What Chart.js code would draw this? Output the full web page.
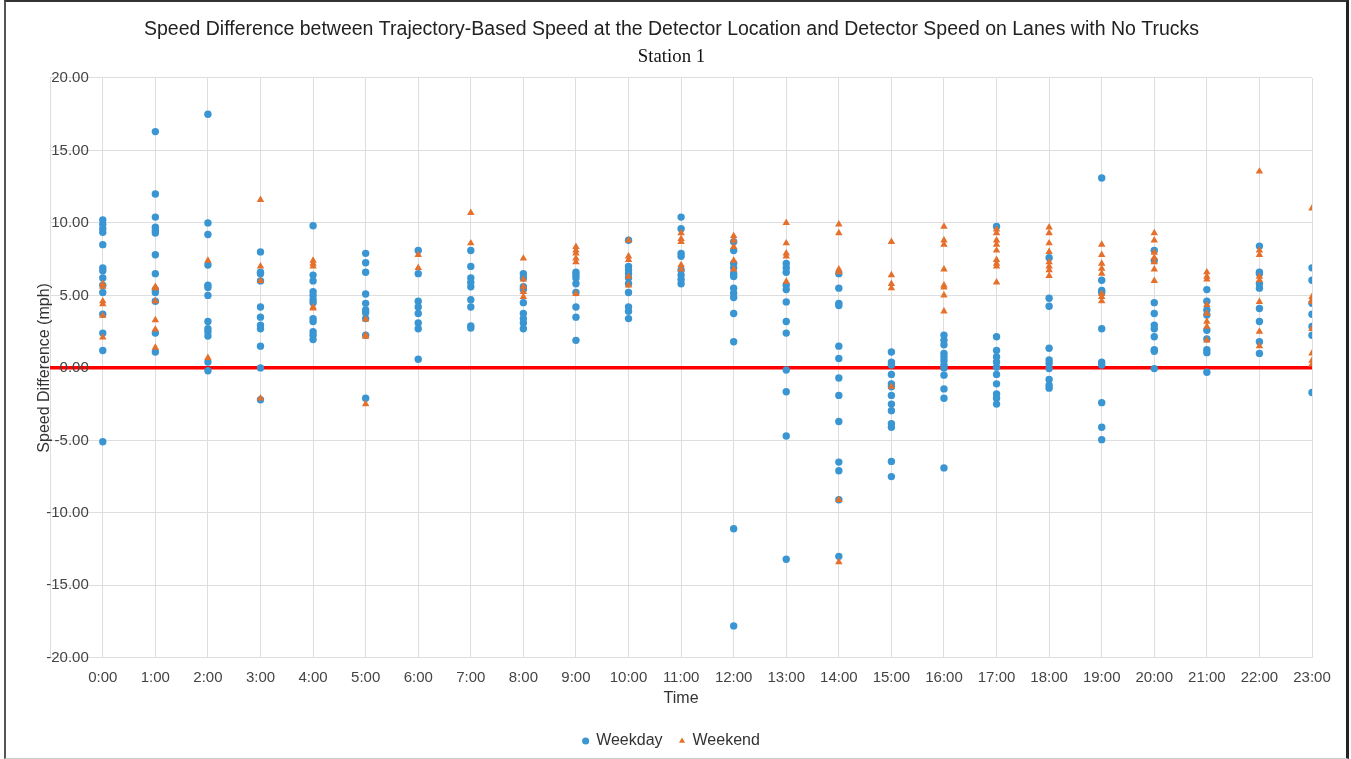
<!DOCTYPE html>
<html>
<head>
<meta charset="utf-8">
<script src="https://cdn.jsdelivr.net/npm/chart.js@4"></script>
<style>
  html, body { margin: 0; padding: 0; background: #fff; }
  #wrap { position: relative; width: 1351px; height: 759px; }
  #frame {
    position: absolute; left: 4px; top: 0; width: 1340px; height: 756px;
    border-top: 2px solid #333; border-left: 2px solid #555; border-right: 3px solid #222;
    border-bottom: 1px solid #ccc; pointer-events: none;
  }
</style>
</head>
<body>
<div id="wrap">
  <canvas id="chart" width="1351" height="759"></canvas>
  <div id="frame"></div>
</div>
<script>
const hourLabels = ["0:00", "1:00", "2:00", "3:00", "4:00", "5:00", "6:00", "7:00", "8:00", "9:00", "10:00", "11:00",
  "12:00", "13:00", "14:00", "15:00", "16:00", "17:00", "18:00", "19:00", "20:00", "21:00", "22:00", "23:00"];

const yTickValues = [-20, -15, -10, -5, 0, 5, 10, 15, 20];

// speed difference (mph) per hour, one list per hour
const weekdayValues = [
  [10.2, 9.9, 9.6, 9.35, 8.5, 6.9, 6.7, 6.2, 5.7, 5.2, 3.7, 2.4, 1.2, -5.1],
  [16.3, 12.0, 10.4, 9.7, 9.5, 9.3, 7.8, 6.5, 5.4, 5.2, 4.6, 2.4, 1.1],
  [17.5, 10.0, 9.2, 7.1, 5.7, 5.55, 5.0, 3.2, 2.7, 2.5, 2.2, 0.4, -0.2],
  [8.0, 6.6, 6.5, 6.0, 4.2, 3.5, 2.95, 2.7, 1.5, 0.0, -2.2],
  [9.8, 6.4, 6.0, 5.25, 5.0, 4.7, 4.5, 3.4, 3.2, 2.5, 2.25, 1.95],
  [7.9, 7.25, 6.6, 5.1, 4.45, 4.0, 3.8, 3.4, 2.25, -2.1],
  [8.1, 6.5, 4.6, 4.2, 3.75, 3.1, 2.7, 0.6],
  [8.1, 7.0, 6.2, 5.9, 5.6, 4.7, 4.2, 2.9, 2.75],
  [6.5, 6.2, 5.6, 5.4, 4.5, 3.75, 3.4, 3.1, 2.7],
  [6.6, 6.4, 6.2, 5.8, 5.2, 4.2, 3.5, 1.9],
  [8.8, 7.0, 6.75, 6.5, 6.2, 5.8, 5.2, 4.2, 3.9, 3.4],
  [10.4, 9.6, 7.9, 7.7, 6.75, 6.4, 6.1, 5.8],
  [8.7, 8.1, 7.2, 6.9, 6.5, 6.3, 5.5, 5.15, 4.85, 3.75, 1.8, -11.1, -17.8],
  [7.2, 6.9, 6.6, 5.7, 5.4, 4.55, 3.2, 2.4, -0.15, -1.65, -4.7, -13.2],
  [6.5, 5.5, 4.45, 4.3, 1.5, 0.65, -0.7, -1.9, -3.7, -6.5, -7.1, -9.1, -13.0],
  [1.1, 0.4, 0.2, -0.45, -1.1, -1.3, -1.9, -2.5, -2.95, -3.85, -4.1, -6.45, -7.5],
  [2.25, 1.9, 1.6, 1.0, 0.75, 0.5, 0.2, 0.0, -0.5, -1.45, -2.1, -6.9],
  [9.75, 2.15, 1.2, 0.75, 0.4, 0.05, -0.45, -1.1, -1.8, -2.1, -2.5],
  [7.6, 4.8, 4.25, 1.35, 0.55, 0.3, -0.05, -0.8, -1.2, -1.4],
  [13.1, 6.05, 5.35, 5.2, 2.7, 0.4, 0.2, -2.4, -4.1, -4.95],
  [8.1, 7.4, 4.5, 3.75, 2.95, 2.7, 2.15, 1.25, 1.15, -0.05],
  [5.4, 4.6, 4.0, 3.65, 2.6, 2.0, 1.25, 1.05, -0.3],
  [8.4, 6.6, 6.5, 5.8, 5.5, 4.1, 3.2, 1.8, 1.0],
  [6.9, 6.05, 4.45, 3.7, 2.85, 2.25, -1.7]
];

const weekendValues = [
  [5.8, 5.6, 4.6, 4.4, 3.6, 2.1],
  [5.6, 5.5, 4.6, 3.3, 2.65, 1.4],
  [7.4, 0.7],
  [11.6, 7.0, 6.0, -2.1],
  [7.4, 7.2, 7.0, 4.2, 4.1],
  [3.35, 2.25, 2.15, -2.5],
  [7.8, 6.9],
  [10.7, 8.6],
  [7.55, 6.1, 5.6, 5.25, 4.9],
  [8.35, 8.1, 7.9, 7.55, 7.3, 5.1],
  [8.8, 7.7, 7.45, 6.3, 5.7],
  [9.3, 8.9, 8.7, 7.1, 6.8],
  [9.1, 8.8, 8.35, 7.4, 6.8],
  [10.0, 8.6, 7.9, 7.7, 5.95],
  [9.9, 9.3, 6.8, 6.6, -9.1, -13.4],
  [8.7, 6.4, 5.8, 5.5, -1.3],
  [9.75, 8.8, 8.5, 6.8, 5.7, 5.55, 5.0, 3.9],
  [9.55, 9.3, 8.8, 8.5, 8.1, 7.45, 7.2, 7.0, 5.9],
  [9.7, 9.3, 8.6, 8.0, 7.3, 7.0, 6.75, 6.35],
  [8.5, 7.8, 7.2, 6.85, 6.5, 5.1, 4.9, 4.6],
  [9.3, 8.8, 7.95, 7.6, 7.3, 6.8, 6.0],
  [6.6, 6.3, 6.1, 4.35, 3.75, 3.2, 2.85, 1.9],
  [13.55, 8.1, 7.8, 6.3, 6.05, 4.55, 2.5, 1.5],
  [11.0, 4.9, 4.7, 4.55, 2.7, 1.0, 0.5, 0.25]
];

const BLUE = "#3a95d3";
const ORANGE = "#e5702c";
const GRID = "#dedede";
const SANS = "'Liberation Sans', Arial, sans-serif";

// flatten hour lists into scatter points
const toPoints = (lists) =>
  lists.flatMap((vals, hour) => vals.map((v) => ({ x: hour, y: v })));

const context = document.querySelector("#chart").getContext("2d");

new Chart(context, {
  type: "scatter",
  data: {
    datasets: [
      {
        label: "Weekday",
        data: toPoints(weekdayValues),
        backgroundColor: BLUE,
        borderColor: BLUE,
        borderWidth: 0,
        pointStyle: "circle",
        pointRadius: 3.7,
        order: 1,
      },
      {
        label: "Weekend",
        data: toPoints(weekendValues),
        backgroundColor: ORANGE,
        borderColor: ORANGE,
        borderWidth: 0,
        pointStyle: "triangle",
        pointRadius: 4.3,
        order: 0,
      },
    ],
  },
  options: {
    responsive: false,
    animation: false,
    layout: { padding: { top: 10, left: 31, right: 39, bottom: 0 } },
    plugins: {
      tooltip: { enabled: false },
      title: {
        display: true,
        text: "Speed Difference between Trajectory-Based Speed at the Detector Location and Detector Speed on Lanes with No Trucks",
        color: "#222",
        font: { family: SANS, size: 19.5, weight: "normal" },
        padding: { top: 8, bottom: 2 },
      },
      subtitle: {
        display: true,
        text: "Station 1",
        color: "#111",
        font: { family: "'Liberation Serif', 'Times New Roman', serif", size: 18.8, weight: "normal" },
        padding: { top: 2, bottom: 10 },
      },
      legend: {
        position: "bottom",
        labels: {
          usePointStyle: true,
          boxWidth: 5,
          boxHeight: 5,
          padding: 17,
          color: "#333",
          font: { family: SANS, size: 16 },
          sort: (a, b) => a.datasetIndex - b.datasetIndex,
        },
      },
    },
    scales: {
      x: {
        type: "linear",
        min: -1,
        max: 23,
        afterBuildTicks: (scale) => {
          scale.ticks = [-1, ...hourLabels.map((_, i) => i)].map((v) => ({ value: v }));
        },
        ticks: {
          callback: (value) => hourLabels[value] ?? "",
          autoSkip: false,
          maxRotation: 0,
          padding: 11,
          color: "#444",
          font: { family: SANS, size: 15 },
        },
        grid: { color: GRID, drawTicks: false },
        border: { display: false },
        title: {
          display: true,
          text: "Time",
          color: "#333",
          font: { family: SANS, size: 16 },
          padding: { top: -9, bottom: 8 },
        },
      },
      y: {
        min: -20,
        max: 20,
        afterBuildTicks: (scale) => {
          scale.ticks = yTickValues.map((v) => ({ value: v }));
        },
        ticks: {
          mirror: true,
          crossAlign: "far",
          padding: -4,
          color: "#444",
          font: { family: SANS, size: 15 },
          callback: (value) => value.toFixed(2),
        },
        grid: {
          drawTicks: false,
          color: (ctx) => (ctx.tick && ctx.tick.value === 0 ? "#ff0000" : GRID),
          lineWidth: (ctx) => (ctx.tick && ctx.tick.value === 0 ? 3.5 : 1),
        },
        border: { display: false },
        title: {
          display: true,
          text: "Speed Difference (mph)",
          color: "#333",
          font: { family: SANS, size: 16 },
          padding: { top: 4, bottom: 4 },
        },
      },
    },
  },
});
</script>
</body>
</html>
